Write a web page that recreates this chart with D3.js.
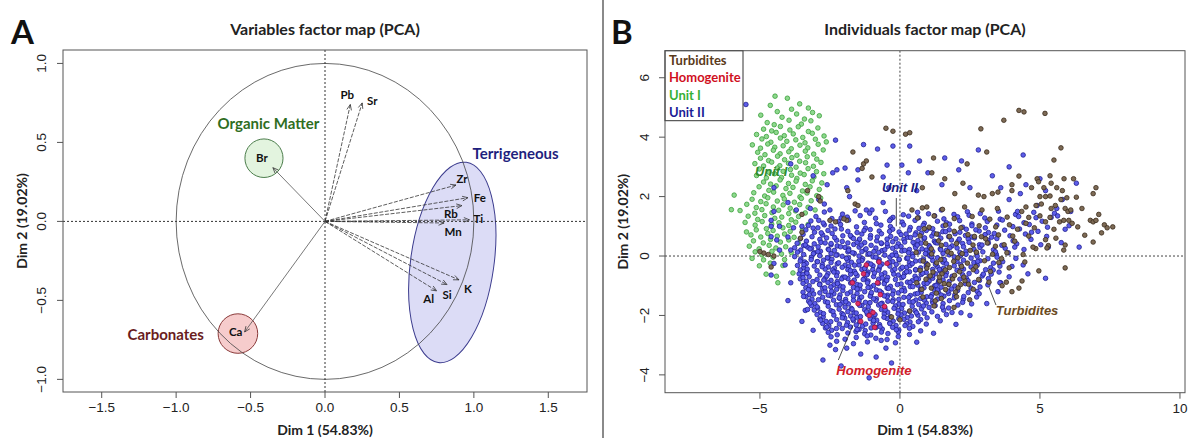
<!DOCTYPE html>
<html><head><meta charset="utf-8">
<script src="https://cdn.jsdelivr.net/npm/d3@7"></script>
<style>
body{margin:0;background:#fff;}
svg{display:block;}
</style></head><body>
<svg id="chart" width="1190" height="438"></svg>
<script>
// ---------- Panel A: variables (correlation circle) ----------
const varNames = ["Pb","Sr","Zr","Fe","Rb","Ti","Mn","K","Si","Al","Br","Ca"];
const varDim1  = [0.17,0.25,0.88,0.96,0.92,0.97,0.80,0.90,0.82,0.75,-0.35,-0.54];
const varDim2  = [0.74,0.75,0.23,0.15,0.10,0.01,-0.01,-0.37,-0.40,-0.44,0.34,-0.70];
const ticksA_x = [-1.5,-1.0,-0.5,0.0,0.5,1.0,1.5];
const ticksA_y = [-1.0,-0.5,0.0,0.5,1.0];

// variable groups: name, centre (dim1, dim2), radii (dim units)
const groupNames = ["Organic Matter","Carbonates","Terrigeneous"];
const groupCx = [-0.41,-0.585,0.855];
const groupCy = [0.40,-0.71,-0.26];
const groupRx = [0.128,0.133,0.28];
const groupRy = [0.122,0.125,0.64];

// ---------- Panel B: individuals ----------
const ticksB_x = [-5,0,5,10];
const ticksB_y = [-4,-2,0,2,4,6];
const legendNames = ["Turbidites","Homogenite","Unit I","Unit II"];

// Unit I scores (dim1, dim2 pairs)
const unitI = [
-4.46,5.38,-4.02,5.31,-4.63,5.07,-3.58,5.12,-3.27,4.98,-4.38,4.86,-3.87,4.94,-3.12,4.83,-4.97,4.74,-4.21,4.67,
-3.69,4.78,-3.41,4.61,-2.88,4.72,-4.74,4.49,-4.49,4.42,-3.96,4.57,-3.52,4.44,-3.18,4.55,-4.87,4.27,-4.58,4.21,
-4.27,4.36,-3.93,4.24,-3.63,4.35,-3.27,4.19,-2.93,4.31,-5.12,4.09,-4.77,4.02,-4.42,4.16,-4.13,4.05,-3.81,4.11,
-3.47,3.99,-3.13,4.13,-2.71,4.04,-4.93,3.94,-4.61,3.83,-4.27,3.97,-4.04,3.86,-3.72,3.91,-3.39,3.81,-3.02,3.93,
-2.63,3.84,-5.27,3.74,-4.98,3.63,-4.72,3.77,-4.47,3.66,-4.17,3.71,-3.88,3.61,-3.57,3.73,-3.29,3.64,-2.92,3.76,
-5.08,3.49,-4.82,3.41,-4.52,3.56,-4.28,3.44,-3.97,3.51,-3.68,3.39,-3.38,3.53,-3.08,3.43,-2.74,3.57,-4.98,3.29,
-4.69,3.21,-4.37,3.36,-4.12,3.24,-3.86,3.31,-3.58,3.19,-3.31,3.34,-2.97,3.26,-5.18,3.11,-4.87,3.03,-4.58,3.16,
-4.29,3.04,-3.98,3.12,-3.71,2.99,-3.37,3.14,-3.09,3.02,-2.82,3.15,-5.02,2.93,-4.68,2.82,-4.38,2.96,-4.17,2.85,
-3.91,2.91,-3.56,2.79,-3.28,2.94,-2.98,2.84,-5.12,2.71,-4.77,2.63,-4.48,2.77,-4.23,2.64,-3.87,2.72,-3.68,2.61,
-3.42,2.74,-3.07,2.66,-2.72,2.77,-4.87,2.49,-4.62,2.42,-4.28,2.56,-3.98,2.44,-3.71,2.52,-3.38,2.41,-3.13,2.53,
-2.79,2.46,-5.03,2.33,-4.68,2.21,-4.42,2.36,-4.07,2.27,-3.82,2.31,-3.48,2.19,-3.21,2.33,-2.88,2.24,-5.92,2.05,
-5.22,2.13,-4.83,2.02,-4.51,2.15,-4.18,2.04,-3.93,2.11,-3.57,1.99,-3.32,2.12,-2.97,2.03,-5.28,1.91,-4.97,1.83,
-4.72,1.96,-4.38,1.85,-4.13,1.92,-3.77,1.81,-3.52,1.94,-3.17,1.86,-2.83,1.95,-5.47,1.74,-5.13,1.63,-4.78,1.76,
-4.52,1.65,-4.17,1.72,-3.92,1.61,-3.58,1.73,-3.28,1.64,-6.02,1.56,-5.71,1.53,-5.18,1.44,-4.93,1.56,-4.57,1.46,
-4.33,1.54,-3.97,1.43,-3.73,1.52,-3.38,1.45,-3.03,1.55,-5.42,1.34,-5.08,1.23,-4.83,1.36,-4.47,1.27,-4.22,1.31,
-3.88,1.22,-3.62,1.33,-5.53,1.13,-5.17,1.04,-4.92,1.16,-4.58,1.07,-4.32,1.12,-3.97,1.03,-3.72,1.14,-3.28,1.06,
-5.48,0.81,-5.13,0.88,-4.77,0.92,-4.53,0.86,-4.18,0.95,-3.92,0.83,-3.48,0.9,-5.32,0.71,-4.97,0.64,-4.72,0.76,
-4.38,0.67,-4.12,0.74,-3.78,0.63,-5.23,0.51,-4.88,0.44,-4.62,0.56,-4.27,0.47,-3.97,0.54,-3.63,0.43,-5.38,0.33,
-5.03,0.24,-4.67,0.36,-4.43,0.27,-4.08,0.31,-5.17,0.14,-4.93,0.04,-4.57,0.16,-4.23,0.07,-3.88,0.12,-5.28,-0.08,
-4.87,-0.13,-4.53,-0.04,-4.12,-0.12,-5.02,-0.33,-4.63,-0.24,-4.18,-0.32,-4.78,-0.61,-4.36,-0.9,-3.82,-0.57,-4.41,-0.68
];

// Unit II scores (dim1, dim2 pairs)
const unitII = [
// scattered upper points
-5.5,5.1,-1.3,3.75,-2.3,3.9,-0.25,3.7,0.35,3.7,0.7,3.2,1.0,2.8,1.6,3.3,2.8,3.57,4.4,3.4,
-3.9,3.1,-3.1,2.7,-1.96,2.96,-1.5,2.9,-0.8,3.6,-0.46,3.06,0.07,3.06,-0.6,2.66,-2.4,2.8,-2.25,2.9,
-1.9,2.3,-1.5,2.56,-1.8,2.0,-1.0,1.55,-0.6,1.8,-0.25,1.3,-1.2,1.55,-2.1,1.28,
0.3,2.8,2.1,2.9,3.3,2.7,3.9,3.0,5.0,2.6,6.3,2.45,-4.5,2.3,-2.6,2.4,-0.4,2.3,0.6,2.2,
1.5,2.4,2.5,2.3,3.6,2.3,4.3,2.1,5.2,2.2,5.8,1.9,2.2,3.2,
// points inside the Unit I cloud
-4.5,1.5,-4.6,1.0,-4.6,0.65,-4.5,-0.25,-4.6,-0.64,-4.6,1.2,-4.3,1.0,-4.0,0.64,-4.4,0.54,
-3.7,1.55,-3.5,1.0,-2.9,1.9,-2.7,1.75,-2.5,1.55,-2.9,1.2,-2.7,1.05,-3.1,0.94,-3.3,0.3,
-3.9,0.2,-4.1,-0.3,-3.6,-0.6,-4.0,1.8,-3.2,1.6,-3.8,0.95,-4.3,0.2,-3.4,-0.2,
// main cloud
-2.7,1.48,-2.05,1.41,-1.6,1.52,-1.08,1.44,-0.52,1.5,0.12,1.39,0.63,1.47,1.02,1.42,1.48,1.55,1.93,1.4,2.41,1.49,2.87,1.43,3.52,1.51,4.13,1.4,4.78,1.47,5.52,1.44,
-3.0,1.33,-2.43,1.26,-1.88,1.31,-1.42,1.36,-0.87,1.27,-0.33,1.24,0.31,1.34,0.66,1.29,1.24,1.35,1.57,1.25,2.06,1.32,2.47,1.37,3.03,1.28,3.58,1.24,4.24,1.33,4.86,1.29,5.63,1.35,
-3.18,1.18,-2.74,1.11,-2.19,1.16,-1.83,1.21,-1.27,1.13,-0.84,1.09,-0.37,1.19,0.08,1.14,0.54,1.2,0.87,1.1,1.34,1.17,1.66,1.12,2.13,1.19,2.57,1.08,3.12,1.16,3.66,1.21,4.43,1.12,5.08,1.17,
-3.27,1.03,-2.93,0.95,-2.46,1.01,-2.12,1.06,-1.55,0.98,-1.23,0.94,-0.68,1.04,-0.34,0.99,0.13,1.05,0.37,0.96,0.83,1.03,1.06,0.94,1.54,1.01,1.77,1.07,2.24,0.97,2.57,1.02,3.05,0.95,3.46,1.04,4.03,0.99,4.62,1.06,5.27,0.97,6.04,1.02,
-3.36,0.88,-3.05,0.8,-2.57,0.86,-2.32,0.91,-1.86,0.83,-1.53,0.79,-1.06,0.89,-0.74,0.84,-0.26,0.9,-0.03,0.81,0.34,0.87,0.57,0.78,0.94,0.86,1.17,0.92,1.53,0.82,1.76,0.88,2.14,0.8,2.37,0.9,2.83,0.84,3.16,0.79,3.74,0.87,4.27,0.91,4.93,0.83,
-3.46,0.73,-3.14,0.65,-2.76,0.71,-2.42,0.76,-2.04,0.68,-1.73,0.64,-1.36,0.74,-1.05,0.69,-0.66,0.75,-0.33,0.66,0.04,0.72,0.27,0.63,0.54,0.71,0.77,0.77,1.14,0.67,1.37,0.73,1.74,0.65,1.97,0.75,2.34,0.69,2.56,0.64,3.04,0.72,3.37,0.76,3.93,0.68,4.48,0.74,5.24,0.66,
-3.56,0.58,-3.34,0.5,-2.86,0.56,-2.62,0.61,-2.26,0.53,-2.06,0.49,-1.66,0.59,-1.45,0.54,-1.06,0.6,-0.83,0.51,-0.46,0.57,-0.26,0.48,0.14,0.56,0.38,0.62,0.64,0.52,0.86,0.58,1.23,0.5,1.46,0.6,1.84,0.54,2.07,0.49,2.44,0.57,2.66,0.61,3.14,0.53,3.46,0.59,4.04,0.51,4.68,0.56,
-3.67,0.43,-3.44,0.35,-3.06,0.41,-2.82,0.46,-2.46,0.38,-2.24,0.34,-1.86,0.44,-1.65,0.39,-1.26,0.45,-1.03,0.36,-0.66,0.42,-0.44,0.33,-0.06,0.41,0.17,0.47,0.54,0.37,0.76,0.43,1.04,0.35,1.27,0.45,1.64,0.39,1.86,0.34,2.24,0.42,2.47,0.46,2.84,0.38,3.16,0.44,3.64,0.36,4.17,0.41,5.03,0.38,5.76,0.45,
-3.76,0.28,-3.54,0.2,-3.16,0.26,-2.92,0.31,-2.56,0.23,-2.34,0.19,-1.96,0.29,-1.83,0.24,-1.46,0.3,-1.24,0.21,-0.86,0.27,-0.64,0.18,-0.26,0.26,0.04,0.32,0.34,0.22,0.56,0.28,0.94,0.2,1.07,0.3,1.44,0.24,1.66,0.19,2.04,0.27,2.27,0.31,2.64,0.23,2.86,0.29,3.34,0.21,3.76,0.26,4.43,0.22,
-3.66,0.13,-3.44,0.05,-3.06,0.11,-2.84,0.16,-2.46,0.08,-2.24,0.04,-1.86,0.14,-1.63,0.09,-1.36,0.15,-1.14,0.06,-0.76,0.12,-0.54,0.03,-0.16,0.11,0.07,0.17,0.44,0.07,0.66,0.13,1.04,0.05,1.17,0.15,1.54,0.09,1.76,0.04,2.14,0.12,2.36,0.16,2.74,0.08,2.96,0.14,3.44,0.06,3.87,0.11,
-3.76,-0.02,-3.54,-0.1,-3.16,-0.04,-2.86,0.01,-2.56,-0.07,-2.43,-0.11,-2.06,-0.01,-1.84,-0.06,-1.46,0.0,-1.33,-0.09,-0.96,-0.03,-0.74,-0.12,-0.36,-0.04,-0.13,0.02,0.24,-0.08,0.46,-0.02,0.84,-0.1,1.07,0.0,1.34,-0.06,1.56,-0.11,1.94,-0.03,2.16,0.01,2.54,-0.07,2.76,-0.01,3.14,-0.09,3.47,-0.04,4.14,-0.08,
-3.56,-0.17,-3.34,-0.25,-2.96,-0.19,-2.73,-0.14,-2.46,-0.22,-2.24,-0.26,-1.86,-0.16,-1.73,-0.21,-1.36,-0.15,-1.14,-0.24,-0.76,-0.18,-0.64,-0.27,-0.26,-0.19,-0.03,-0.13,0.34,-0.23,0.56,-0.17,0.94,-0.25,1.17,-0.15,1.54,-0.21,1.66,-0.26,2.04,-0.18,2.27,-0.14,2.64,-0.22,2.86,-0.16,3.34,-0.24,3.67,-0.19,
-3.66,-0.32,-3.44,-0.4,-3.06,-0.34,-2.77,-0.29,-2.56,-0.37,-2.34,-0.41,-1.96,-0.31,-1.83,-0.36,-1.46,-0.3,-1.24,-0.39,-0.96,-0.33,-0.74,-0.42,-0.36,-0.34,-0.13,-0.28,0.24,-0.38,0.36,-0.32,0.74,-0.4,0.97,-0.3,1.34,-0.36,1.56,-0.41,1.94,-0.33,2.17,-0.29,2.54,-0.37,2.76,-0.31,3.24,-0.39,3.57,-0.34,
-3.56,-0.47,-3.34,-0.55,-2.96,-0.49,-2.67,-0.44,-2.36,-0.52,-2.24,-0.56,-1.86,-0.46,-1.63,-0.51,-1.36,-0.45,-1.14,-0.54,-0.76,-0.48,-0.54,-0.57,-0.26,-0.49,0.03,-0.43,0.34,-0.53,0.56,-0.47,0.94,-0.55,1.17,-0.45,1.44,-0.51,1.66,-0.56,2.04,-0.48,2.27,-0.44,2.74,-0.52,3.06,-0.46,3.54,-0.54,
-3.46,-0.62,-3.24,-0.7,-2.86,-0.64,-2.57,-0.59,-2.26,-0.67,-2.04,-0.71,-1.76,-0.61,-1.53,-0.66,-1.16,-0.6,-0.94,-0.69,-0.66,-0.63,-0.44,-0.72,-0.06,-0.64,0.17,-0.58,0.54,-0.68,0.76,-0.62,1.04,-0.7,1.27,-0.6,1.64,-0.66,1.86,-0.71,2.24,-0.63,2.47,-0.59,2.94,-0.67,3.26,-0.61,
-3.56,-0.77,-3.34,-0.85,-2.96,-0.79,-2.67,-0.74,-2.46,-0.82,-2.24,-0.86,-1.86,-0.76,-1.63,-0.81,-1.26,-0.75,-1.14,-0.84,-0.76,-0.78,-0.54,-0.87,-0.16,-0.79,0.07,-0.73,0.44,-0.83,0.66,-0.77,1.04,-0.85,1.17,-0.75,1.54,-0.81,1.76,-0.86,2.14,-0.78,2.37,-0.74,2.84,-0.82,3.16,-0.76,
-3.46,-0.92,-3.24,-1.0,-2.86,-0.94,-2.57,-0.89,-2.36,-0.97,-2.14,-1.01,-1.76,-0.91,-1.53,-0.96,-1.16,-0.9,-0.94,-0.99,-0.56,-0.93,-0.34,-1.02,0.04,-0.94,0.27,-0.88,0.64,-0.98,0.86,-0.92,1.24,-1.0,1.37,-0.9,1.74,-0.96,1.96,-1.01,2.34,-0.93,2.66,-0.89,3.14,-0.97,
-3.36,-1.07,-3.14,-1.15,-2.76,-1.09,-2.47,-1.04,-2.26,-1.12,-2.04,-1.16,-1.66,-1.06,-1.43,-1.11,-1.06,-1.05,-0.84,-1.14,-0.46,-1.08,-0.24,-1.17,0.14,-1.09,0.37,-1.03,0.74,-1.13,0.86,-1.07,1.24,-1.15,1.47,-1.05,1.84,-1.11,2.06,-1.16,2.54,-1.08,2.86,-1.04,
-3.46,-1.22,-3.24,-1.3,-2.86,-1.24,-2.67,-1.19,-2.36,-1.27,-2.14,-1.31,-1.76,-1.21,-1.53,-1.26,-1.26,-1.2,-1.04,-1.29,-0.66,-1.23,-0.44,-1.32,-0.06,-1.24,0.17,-1.18,0.54,-1.28,0.76,-1.22,1.14,-1.3,1.37,-1.2,1.74,-1.26,1.96,-1.31,2.44,-1.23,2.76,-1.19,
-3.36,-1.37,-3.14,-1.45,-2.76,-1.39,-2.47,-1.34,-2.16,-1.42,-1.94,-1.46,-1.66,-1.36,-1.43,-1.41,-1.06,-1.35,-0.84,-1.44,-0.46,-1.38,-0.24,-1.47,0.14,-1.39,0.37,-1.33,0.74,-1.43,0.96,-1.37,1.34,-1.45,1.57,-1.35,1.94,-1.41,2.26,-1.46,2.74,-1.38,
-3.26,-1.52,-3.04,-1.6,-2.66,-1.54,-2.37,-1.49,-2.06,-1.57,-1.84,-1.61,-1.46,-1.51,-1.23,-1.56,-0.86,-1.5,-0.64,-1.59,-0.26,-1.53,-0.04,-1.62,0.34,-1.54,0.57,-1.48,0.94,-1.58,1.16,-1.52,1.54,-1.6,1.77,-1.5,2.24,-1.56,2.56,-1.61,
-3.16,-1.67,-2.94,-1.75,-2.56,-1.69,-2.27,-1.64,-1.96,-1.72,-1.74,-1.76,-1.36,-1.66,-1.13,-1.71,-0.76,-1.65,-0.54,-1.74,-0.16,-1.68,0.06,-1.77,0.44,-1.69,0.67,-1.63,1.04,-1.73,1.26,-1.67,1.74,-1.75,2.07,-1.65,
-3.06,-1.82,-2.84,-1.9,-2.46,-1.84,-2.17,-1.79,-1.86,-1.87,-1.64,-1.91,-1.26,-1.81,-1.03,-1.86,-0.66,-1.8,-0.44,-1.89,-0.06,-1.83,0.16,-1.92,0.54,-1.84,0.77,-1.78,1.14,-1.88,1.56,-1.82,1.86,-1.9,
-2.96,-1.97,-2.74,-2.05,-2.36,-1.99,-2.07,-1.94,-1.76,-2.02,-1.54,-2.06,-1.16,-1.96,-0.93,-2.01,-0.56,-1.95,-0.34,-2.04,0.04,-1.98,0.26,-2.07,0.64,-1.99,0.87,-1.93,1.34,-2.03,1.66,-1.97,
-2.86,-2.12,-2.64,-2.2,-2.26,-2.14,-1.97,-2.09,-1.66,-2.17,-1.44,-2.21,-1.06,-2.11,-0.83,-2.16,-0.46,-2.1,-0.24,-2.19,0.14,-2.13,0.36,-2.22,0.74,-2.14,0.97,-2.08,1.44,-2.18,
-2.76,-2.27,-2.54,-2.35,-2.16,-2.29,-1.87,-2.24,-1.56,-2.32,-1.34,-2.36,-0.96,-2.26,-0.73,-2.31,-0.36,-2.25,-0.14,-2.34,0.24,-2.28,0.46,-2.37,0.94,-2.29,
-2.66,-2.42,-2.44,-2.5,-2.06,-2.44,-1.77,-2.39,-1.46,-2.47,-1.24,-2.51,-0.86,-2.41,-0.63,-2.46,-0.26,-2.4,-0.04,-2.49,0.34,-2.43,0.74,-2.52,
-2.56,-2.57,-2.24,-2.65,-1.86,-2.59,-1.57,-2.54,-1.26,-2.62,-1.04,-2.66,-0.66,-2.56,-0.43,-2.61,-0.06,-2.55,0.34,-2.64,
-2.46,-2.72,-1.96,-2.8,-1.56,-2.74,-1.17,-2.69,-0.86,-2.77,-0.46,-2.81,-0.06,-2.71,
-2.26,-2.87,-1.66,-2.95,-1.16,-2.89,-0.67,-2.84,-0.16,-2.92,
// denser centre of the cloud
-3.38,0.37,-3.09,0.08,-3.21,0.24,-2.93,0.15,-2.67,0.44,-2.54,0.21,-2.28,0.03,-2.12,0.31,-2.46,0.42,-1.83,0.19,
-1.53,0.46,-1.69,0.11,-1.38,0.37,-1.09,0.08,-1.21,0.24,-0.93,0.15,-0.67,0.44,-0.54,0.21,-0.28,0.03,-0.12,0.31,
-0.46,0.42,0.17,0.19,0.47,0.46,0.31,0.11,0.62,0.37,0.91,0.08,0.79,0.24,1.07,0.15,1.33,0.44,1.46,0.21,
-3.43,-0.29,-3.17,-0.12,-3.31,-0.44,-2.78,-0.36,-2.59,-0.06,-2.94,-0.19,-2.41,-0.47,-2.19,-0.23,-2.06,-0.38,-1.91,-0.08,
-1.62,-0.31,-1.77,-0.49,-1.47,-0.17,-1.26,-0.42,-1.04,-0.27,-0.86,-0.04,-0.71,-0.33,-0.97,-0.46,-0.39,-0.21,-0.18,-0.44,
-0.03,-0.11,0.09,-0.38,0.28,-0.07,0.44,-0.26,0.56,-0.46,0.73,-0.16,0.94,-0.34,1.13,-0.02,1.27,-0.28,1.41,-0.45,
-3.32,-0.58,-3.11,-0.86,-3.46,-0.73,-2.87,-0.96,-2.61,-0.67,-2.72,-0.81,-2.36,-0.54,-2.08,-0.77,-2.23,-0.93,-1.96,-0.71,
-1.71,-0.88,-1.58,-0.59,-1.42,-0.98,-1.18,-0.63,-1.31,-0.79,-0.91,-0.57,-0.63,-0.74,-0.77,-0.92,-0.47,-0.82,-0.22,-0.61,
-0.09,-0.96,0.13,-0.69,0.36,-0.89,0.24,-0.53,0.58,-0.77,0.81,-0.58,0.97,-0.92,1.16,-0.66,1.38,-0.84,1.29,-0.99,
-3.27,-1.13,-3.44,-1.36,-3.08,-1.28,-2.91,-1.47,-2.68,-1.07,-2.56,-1.32,-2.44,-1.19,-2.17,-1.41,-2.03,-1.04,-1.88,-1.27,
-1.66,-1.49,-1.53,-1.11,-1.37,-1.38,-1.14,-1.06,-1.02,-1.23,-0.94,-1.44,-0.72,-1.18,-0.56,-1.34,-0.41,-1.09,-0.26,-1.29,
-0.04,-1.46,0.06,-1.16,0.31,-1.39,0.46,-1.03,0.63,-1.26,0.87,-1.48,0.74,-1.12,1.11,-1.37,1.34,-1.14,1.47,-1.31,
-3.21,-1.58,-3.38,-1.83,-2.96,-1.71,-2.73,-1.94,-2.58,-1.56,-2.39,-1.87,-2.14,-1.63,-2.02,-1.98,-1.93,-1.54,-1.71,-1.79,
-1.56,-1.92,-1.44,-1.66,-1.19,-1.88,-1.07,-1.57,-0.89,-1.97,-0.68,-1.61,-0.53,-1.81,-0.43,-1.52,-0.21,-1.76,-0.07,-1.95,
0.11,-1.63,0.34,-1.86,0.47,-1.54,0.59,-1.91,0.84,-1.68,1.18,-1.59,
-2.83,-2.16,-2.61,-2.39,-2.47,-2.21,-2.27,-2.44,-2.06,-2.08,-1.91,-2.33,-1.68,-2.12,-1.53,-2.47,-1.41,-2.04,-1.22,-2.29,
-1.03,-2.42,-0.94,-2.17,-0.71,-2.38,-0.57,-2.06,-0.36,-2.27,-0.13,-2.48,-0.04,-2.11,0.18,-2.34,0.41,-2.02,0.66,-2.21,
-2.81,0.78,-2.33,0.62,-2.09,0.91,-1.77,0.69,-1.28,0.86,-1.44,0.57,-0.81,0.64,-0.37,0.83,-0.14,0.58,0.22,0.74,
0.68,0.93,0.88,0.61,1.21,0.77,
1.63,0.82,2.12,0.57,2.71,0.88,3.27,0.63,1.78,0.28,2.36,0.06,2.93,0.37,3.41,0.14,1.59,-0.13,2.19,-0.42,
2.78,-0.18,3.33,-0.47,1.87,-0.68,2.43,-0.83,2.98,-0.61,1.71,-1.18,2.28,-1.36,2.83,-1.27,1.52,-1.72,2.18,-1.91,
// sparse fringe
-2.75,-3.5,-0.85,-3.4,-1.9,-3.1,-2.5,-3.0,-2.3,-3.15,-1.4,-3.3,-3.3,-1.8,-3.1,-2.5,-2.1,-3.7,-0.5,-3.1,
-1.1,-4.1,-3.5,-2.2,-3.9,-0.9,-4.0,-1.5,-0.3,-3.6,0.6,-2.9,1.2,-2.6,2.0,-2.3,2.5,-2.0,3.1,-1.6,
3.5,-1.2,3.9,-0.7,4.4,-0.3,4.57,-0.6,5.2,-0.75,3.6,-0.9,4.1,0.3,4.7,0.8,5.4,1.3,5.9,0.9,
6.4,0.3,4.9,1.7,5.6,1.6,4.2,1.5,3.9,1.9,6.1,1.5,4.5,2.4,5.3,0.3,3.57,-0.9,4.0,-0.35
];

// Turbidite scores (dim1, dim2 pairs)
const turbidites = [
0.8,1.62,1.52,1.57,2.31,1.65,2.93,1.55,3.48,1.6,
0.63,1.28,1.22,1.35,1.94,1.26,2.58,1.33,3.21,1.24,3.83,1.31,
1.04,0.97,1.63,1.04,2.18,0.95,2.83,1.02,3.42,0.98,3.91,1.05,
0.72,0.68,1.31,0.74,1.77,0.66,2.43,0.72,2.91,0.65,3.52,0.71,4.03,0.67,
0.92,0.43,1.48,0.36,2.02,0.42,2.61,0.37,3.12,0.44,3.72,0.38,
0.58,0.12,1.13,0.07,1.71,0.14,2.22,0.08,2.73,0.13,3.31,0.06,3.82,0.11,
0.83,-0.17,1.31,-0.23,1.92,-0.18,2.41,-0.24,3.02,-0.16,3.53,-0.22,
0.72,-0.48,1.18,-0.54,1.62,-0.47,2.13,-0.53,2.62,-0.46,3.23,-0.52,
0.93,-0.78,1.42,-0.84,1.88,-0.77,2.32,-0.83,2.81,-0.79,
1.12,-1.08,1.63,-1.13,2.08,-1.07,2.62,-1.12,
0.82,-1.38,1.48,-1.43,2.02,-1.37,1.22,-1.68,1.93,-1.73,
1.0,-0.3,1.5,-0.6,1.75,-0.95,2.2,-0.35,1.3,-1.25,0.6,-0.9,1.95,-0.65,2.45,-0.95,
0.87,0.92,1.38,0.51,1.94,0.83,2.51,0.19,3.06,0.58,3.63,-0.09,0.96,-0.41,1.46,-0.12,1.77,-0.39,2.28,-0.71,
2.71,-0.36,3.18,-0.88,1.08,-0.67,1.58,-0.93,1.99,-1.21,2.49,-1.47,1.26,-1.51,0.78,-1.12,1.83,0.09,2.66,0.66,
3.41,0.33,1.12,0.24,2.07,-0.06,1.41,-0.71,2.17,-0.96,
0.0,-2.15,-0.3,-2.05,0.35,-1.85,
4.25,4.9,4.43,4.85,5.18,4.8,3.71,4.57,2.89,4.28,5.75,3.64,5.5,3.23,4.25,2.69,4.9,2.6,4.95,2.5,
5.36,2.7,5.86,2.6,6.2,2.6,5.4,2.45,4.0,2.4,4.0,2.2,4.7,2.3,5.14,2.3,5.6,2.3,5.8,2.2,
7.0,2.3,6.9,2.1,2.25,2.45,1.96,2.1,2.8,2.05,3.0,2.0,3.3,2.1,3.5,2.15,5.0,2.0,5.2,2.0,
5.36,2.02,5.75,1.9,5.96,1.96,6.3,1.98,4.5,1.65,4.35,1.5,4.86,1.7,5.05,1.75,5.4,1.6,5.55,1.7,
5.9,1.6,6.0,1.5,6.1,1.55,5.36,1.3,5.2,1.15,5.7,1.15,5.85,1.2,6.03,1.2,6.15,1.1,6.8,1.2,
6.9,1.15,7.0,1.2,7.1,1.4,7.3,1.05,7.4,0.95,7.6,0.98,6.35,0.98,7.2,0.78,6.9,0.47,5.9,0.37,
5.85,0.2,5.57,0.6,5.2,0.55,5.3,0.35,4.6,0.67,4.85,0.25,4.75,0.3,5.25,0.27,5.9,-0.4,4.96,-0.5,
4.46,-0.2,4.36,-0.84,3.8,-0.88,3.65,-1.0,4.25,-1.08,4.0,-1.2,4.2,0.9,4.5,1.1,4.8,0.95,4.1,0.5,
4.4,0.05,3.9,-0.4,4.6,1.3,5.5,0.9,6.5,1.6,6.6,0.7,5.0,1.35,
-0.5,4.3,-0.25,4.2,0.2,4.1,0.35,4.15,-1.68,3.5,-1.3,3.1,-1.2,3.2,-1.35,2.95,-1.0,2.66,-1.86,2.2,
-1.6,1.75,-1.5,1.7,-2.9,2.0,-2.85,1.85,-3.3,2.2,-2.5,1.2,-2.3,1.15,-3.5,1.4,-3.5,0.8,-3.55,0.6,
-1.9,1.2,-2.0,1.25,-4.86,0.1,-4.7,0.05,-5.0,0.15,-4.5,0.0,-4.6,-0.37,1.14,2.8,1.2,3.3,0.8,2.3,
0.96,1.65,0.43,1.55,1.6,2.6,2.4,3.1,3.1,3.5
];

// Homogenite scores (dim1, dim2 pairs)
const homogenite = [
-0.46,-0.25,-0.75,-0.2,-1.3,-0.6,-0.8,-0.9,-0.7,-1.3,-0.96,-1.9,-1.1,-2.0,-1.5,-1.6,
-1.2,-0.3,-0.55,-1.7,-1.7,-0.9,-0.9,-2.4,-1.4,-2.2
];

// ---------- drawing ----------
const svg = d3.select("#chart");
const TICK_FONT = "'Liberation Sans', Arial, sans-serif";
const LABEL_FONT = "Lato, 'Open Sans', sans-serif";

function pairs(flat){ const out=[]; for(let i=0;i<flat.length;i+=2) out.push([flat[i],flat[i+1]]); return out; }
function fmtA(v){ return (v<0?"\u2212":"") + Math.abs(v).toFixed(1); }
function fmtB(v){ return (v<0?"\u2212":"") + Math.abs(v); }

function frame(g, x, y, xt, yt, fmt, xlab, ylab, ylabX, ytickX){
  const [x0,x1]=x.range(), [y0,y1]=y.range();
  g.append("rect").attr("x",x0).attr("y",y1).attr("width",x1-x0).attr("height",y0-y1)
    .attr("fill","none").attr("stroke","#555").attr("stroke-width",1);
  const xa=g.append("g");
  xt.forEach(v=>{
    xa.append("line").attr("x1",x(v)).attr("x2",x(v)).attr("y1",y0).attr("y2",y0+6).attr("stroke","#555");
    xa.append("text").attr("x",x(v)).attr("y",y0+20).attr("text-anchor","middle")
      .attr("font-family",TICK_FONT).attr("font-size",13.5).attr("fill","#222").text(fmt(v));
  });
  const ya=g.append("g");
  yt.forEach(v=>{
    ya.append("line").attr("x1",x0).attr("x2",x0-6).attr("y1",y(v)).attr("y2",y(v)).attr("stroke","#555");
    ya.append("text").attr("transform",`translate(${ytickX},${y(v)}) rotate(-90)`).attr("text-anchor","middle")
      .attr("font-family",TICK_FONT).attr("font-size",13.5).attr("fill","#222").text(fmt(v));
  });
  g.append("text").attr("x",(x0+x1)/2).attr("y",435).attr("text-anchor","middle")
    .attr("font-family",LABEL_FONT).attr("font-weight",700).attr("font-size",14).attr("fill","#222").text(xlab);
  g.append("text").attr("transform",`translate(${ylabX},${(y0+y1)/2}) rotate(-90)`).attr("text-anchor","middle")
    .attr("font-family",LABEL_FONT).attr("font-weight",700).attr("font-size",14).attr("fill","#222").text(ylab);
}

// ===== Panel A =====
const ax = d3.scaleLinear().domain([-1.76,1.76]).range([63,587]);
const ay = d3.scaleLinear().domain([-1.08,1.085]).range([392,50]);
const gA = svg.append("g");

const groupFill = ["#e3f4df","#f6cccc","#dcdcf6"];
const groupStroke = ["#4b7d4b","#8a3a3a","#3c3c8e"];
const groupText = ["#2f6e1f","#6a1d1d","#1f1f7e"];
const groupRot = [0,0,8];
groupNames.forEach((n,i)=>{
  const cx=ax(groupCx[i]), cy=ay(groupCy[i]);
  const rx=ax(groupCx[i]+groupRx[i])-cx, ry=cy-ay(groupCy[i]+groupRy[i]);
  gA.append("ellipse").attr("cx",cx).attr("cy",cy).attr("rx",rx).attr("ry",ry)
    .attr("transform",`rotate(${groupRot[i]},${cx},${cy})`)
    .attr("fill",groupFill[i]).attr("stroke",groupStroke[i]).attr("stroke-width",1);
});
// group titles
const groupLabelX = [-0.38,-1.07,1.28];
const groupLabelY = [0.62,-0.72,0.43];
groupNames.forEach((n,i)=>{
  gA.append("text").attr("x",ax(groupLabelX[i])).attr("y",ay(groupLabelY[i])).attr("dy","0.35em")
    .attr("text-anchor","middle").attr("font-family",LABEL_FONT).attr("font-weight",700)
    .attr("font-size",15).attr("fill",groupText[i]).text(n);
});

// unit circle and zero lines
gA.append("ellipse").attr("cx",ax(0)).attr("cy",ay(0)).attr("rx",ax(1)-ax(0)).attr("ry",ay(0)-ay(1))
  .attr("fill","none").attr("stroke","#444").attr("stroke-width",0.8);
gA.append("line").attr("x1",ax.range()[0]).attr("x2",ax.range()[1]).attr("y1",ay(0)).attr("y2",ay(0))
  .attr("stroke","#333").attr("stroke-dasharray","2,2");
gA.append("line").attr("x1",ax(0)).attr("x2",ax(0)).attr("y1",ay.range()[0]).attr("y2",ay.range()[1])
  .attr("stroke","#333").attr("stroke-dasharray","2,2");

// variable arrows
const labelDx = [-3,10,6,12,-11,9,9,9,0,-8,-11,-9];
const labelDy = [-10,-2,-6,0,8,-1,9,9,10,8,-10,0];
varNames.forEach((n,i)=>{
  const x0=ax(0), y0=ay(0), x1=ax(varDim1[i]), y1=ay(varDim2[i]);
  const solid = (n==="Br"||n==="Ca");
  gA.append("line").attr("x1",x0).attr("y1",y0).attr("x2",x1).attr("y2",y1)
    .attr("stroke", solid?"#555":"#333").attr("stroke-width",0.8)
    .attr("stroke-dasharray", solid?null:"4,1.5");
  const ang=Math.atan2(y1-y0,x1-x0), L=6, a=0.4;
  [ang+Math.PI-a, ang+Math.PI+a].forEach(t=>{
    gA.append("line").attr("x1",x1).attr("y1",y1)
      .attr("x2",x1+L*Math.cos(t)).attr("y2",y1+L*Math.sin(t))
      .attr("stroke","#333").attr("stroke-width",0.8);
  });
  gA.append("text").attr("x",x1+labelDx[i]).attr("y",y1+labelDy[i]).attr("dy","0.35em")
    .attr("text-anchor","middle").attr("font-family",LABEL_FONT).attr("font-weight",700)
    .attr("font-size",11.5).attr("fill","#111").text(n);
});

frame(gA, ax, ay, ticksA_x, ticksA_y, fmtA, "Dim 1 (54.83%)", "Dim 2 (19.02%)", 27, 46);
gA.append("text").attr("x",ax.range()[0]+(ax.range()[1]-ax.range()[0])/2).attr("y",35).attr("text-anchor","middle")
  .attr("font-family",LABEL_FONT).attr("font-weight",700).attr("font-size",16).attr("fill","#222")
  .text("Variables factor map (PCA)");
svg.append("text").attr("x",11).attr("y",44).attr("font-family",LABEL_FONT).attr("font-weight",700)
  .attr("font-size",33).attr("fill","#111").text("A");

// divider between panels
svg.append("line").attr("x1",603).attr("x2",603).attr("y1",0).attr("y2",438)
  .attr("stroke","#8a8a8a").attr("stroke-width",2);

// ===== Panel B =====
const bx = d3.scaleLinear().domain([-8.39,10.18]).range([665,1185]);
const by = d3.scaleLinear().domain([-4.6,6.91]).range([392.7,50.7]);
const gB = svg.append("g");
svg.append("defs").append("clipPath").attr("id","clipB").append("rect")
  .attr("x",665).attr("y",50.7).attr("width",520).attr("height",342);

const plotB = gB.append("g").attr("clip-path","url(#clipB)");
plotB.append("line").attr("x1",665).attr("x2",1185).attr("y1",by(0)).attr("y2",by(0))
  .attr("stroke","#444").attr("stroke-dasharray","2,2");
plotB.append("line").attr("x1",bx(0)).attr("x2",bx(0)).attr("y1",50.7).attr("y2",392.7)
  .attr("stroke","#444").attr("stroke-dasharray","2,2");

const groups = [
  {pts: pairs(unitI),      fill:"#8ed88e", stroke:"#3a9f3a"},
  {pts: pairs(unitII),     fill:"#5d5de9", stroke:"#1f1f90"},
  {pts: pairs(turbidites), fill:"#7d6a55", stroke:"#3a2b1c"},
  {pts: pairs(homogenite), fill:"#e0306a", stroke:"#a0103a"}
];
groups.forEach(gr=>{
  plotB.append("g").selectAll("circle").data(gr.pts).join("circle")
    .attr("cx",d=>bx(d[0])).attr("cy",d=>by(d[1])).attr("r",2.3)
    .attr("fill",gr.fill).attr("stroke",gr.stroke).attr("stroke-width",0.8);
});

// cluster annotations
const annText = ["Unit I","Unit II","Homogenite","Turbidites"];
const annX = [-4.6,0.0,-0.93,4.54];
const annY = [2.83,2.3,-3.84,-1.82];
const annColor = ["#2e8b2e","#1a1a7e","#d0202a","#6b4a1e"];
annText.forEach((t,i)=>{
  gB.append("text").attr("x",bx(annX[i])).attr("y",by(annY[i])).attr("dy","0.35em")
    .attr("text-anchor","middle").attr("font-family",TICK_FONT).attr("font-weight",700)
    .attr("font-style","italic").attr("font-size",13).attr("fill",annColor[i]).text(t);
});
// leader lines (from label towards cluster)
const leadX1=[-0.13,-2.2,3.18], leadY1=[1.95,-3.5,-1.05], leadX2=[-0.13,-1.68,3.43], leadY2=[1.0,-2.33,-1.65];
leadX1.forEach((v,i)=>{
  gB.append("line").attr("x1",bx(v)).attr("y1",by(leadY1[i])).attr("x2",bx(leadX2[i])).attr("y2",by(leadY2[i]))
    .attr("stroke","#222").attr("stroke-width",0.8);
});

// legend
const legColor = ["#5a3a1a","#d0101e","#36b036","#1c1c96"];
gB.append("rect").attr("x",665).attr("y",50.7).attr("width",78).attr("height",70)
  .attr("fill","#fff").attr("stroke","#333").attr("stroke-width",1);
legendNames.forEach((n,i)=>{
  gB.append("text").attr("x",669).attr("y",65+i*17.3).attr("font-family",LABEL_FONT).attr("font-weight",700)
    .attr("font-size",13).attr("fill",legColor[i]).text(n);
});

frame(gB, bx, by, ticksB_x, ticksB_y, fmtB, "Dim 1 (54.83%)", "Dim 2 (19.02%)", 628, 649);
gB.append("text").attr("x",925).attr("y",35).attr("text-anchor","middle")
  .attr("font-family",LABEL_FONT).attr("font-weight",700).attr("font-size",16).attr("fill","#222")
  .text("Individuals factor map (PCA)");
svg.append("text").attr("x",611).attr("y",44).attr("font-family",LABEL_FONT).attr("font-weight",700)
  .attr("font-size",33).attr("fill","#111").text("B");
</script></body></html>
